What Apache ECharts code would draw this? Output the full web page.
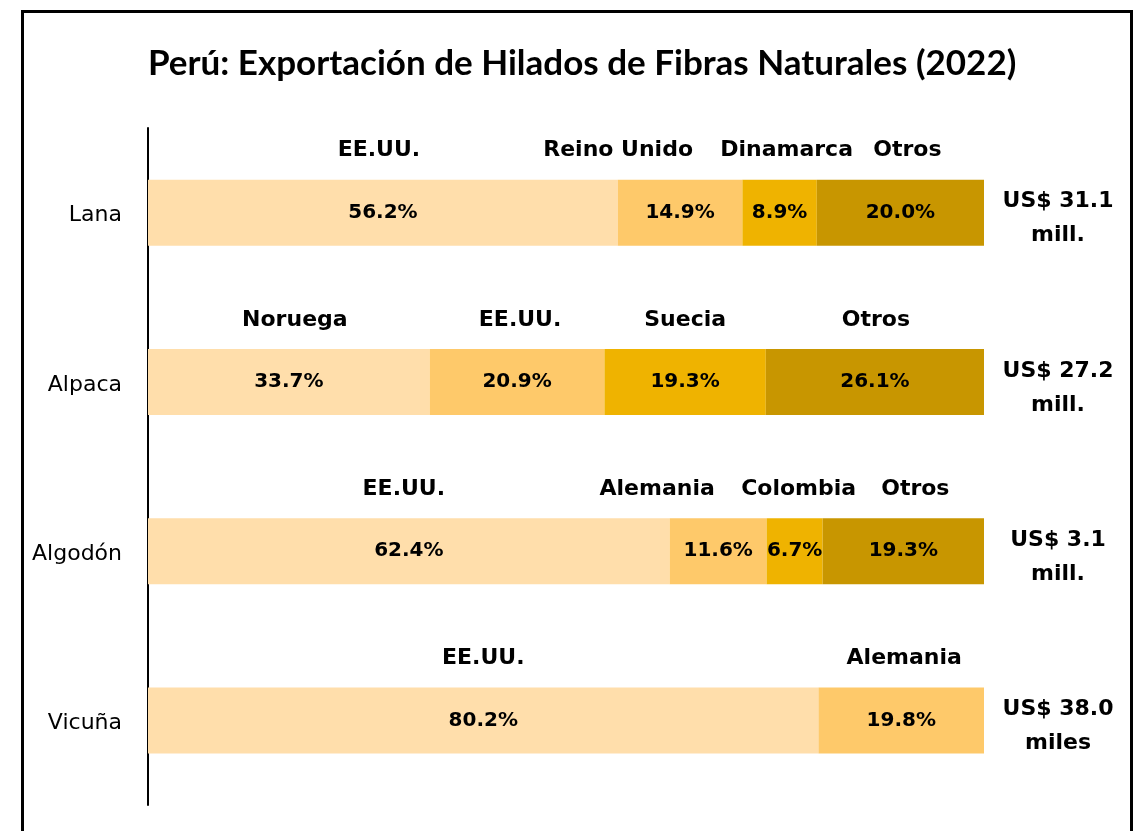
<!DOCTYPE html>
<html><head><meta charset="utf-8">
<script src="https://cdn.jsdelivr.net/npm/echarts@6/dist/echarts.min.js"></script>
<style>html,body{margin:0;padding:0;background:#fff}#c{width:1138px;height:831px}</style>
</head><body><div id="c"></div>
<script>
const titleText = 'Perú: Exportación de Hilados de Fibras Naturales (2022)';
const categories = ['Lana', 'Alpaca', 'Algodón', 'Vicuña'];
const totals = ['US$ 31.1\nmill.', 'US$ 27.2\nmill.', 'US$ 3.1\nmill.', 'US$ 38.0\nmiles'];
const share1 = [56.2, 33.7, 62.4, 80.2];
const share2 = [14.9, 20.9, 11.6, 19.8];
const share3 = [8.9, 19.3, 6.7, null];
const share4 = [20.0, 26.1, 19.3, null];
const names1 = ['EE.UU.', 'Noruega', 'EE.UU.', 'EE.UU.'];
const names2 = ['Reino Unido', 'EE.UU.', 'Alemania', 'Alemania'];
const names3 = ['Dinamarca', 'Suecia', 'Colombia', ''];
const names4 = ['Otros', 'Otros', 'Otros', ''];

// layout only: horizontal nudges of the country names (px)
const nameNudge = [
  [-4, 6, -5, 0],
  [-62, 3, -61, 3],
  [7, 0, 4, 0],
  [7, 1, 12, 0]
];
const colors = ['#FFDEAB', '#FEC96A', '#EFB300', '#C89600'];
const FONT = 'DejaVu Sans';

const shares = [share1, share2, share3, share4];
const names = [names1, names2, names3, names4];

const series = [];
shares.forEach((arr, i) => {
  series.push({
    type: 'bar', stack: 'pct', barWidth: 66, barGap: '-100%',
    itemStyle: { color: colors[i] },
    label: {
      show: true, position: 'inside', color: '#000', fontFamily: FONT,
      fontWeight: 'bold', fontSize: 20,
      formatter: p => (p.value == null ? '' : p.value.toFixed(1) + '%')
    },
    emphasis: { disabled: true },
    data: arr
  });
});
shares.forEach((arr, i) => {
  series.push({
    type: 'bar', stack: 'names', barWidth: 66, barGap: '-100%',
    itemStyle: { color: 'rgba(0,0,0,0)' },
    silent: true,
    emphasis: { disabled: true },
    data: arr.map((v, k) => ({
      value: v,
      label: {
        show: !!names[i][k], position: 'top', distance: 18,
        offset: [nameNudge[i][k], 0],
        formatter: names[i][k] || '',
        color: '#000', fontFamily: FONT, fontWeight: 'bold', fontSize: 22
      }
    }))
  });
});

const chart = echarts.init(document.getElementById('c'), null, { renderer: 'canvas' });
chart.setOption({
  animation: false,
  backgroundColor: '#fff',
  title: {
    text: titleText, left: 143, top: 41,
    textStyle: { fontFamily: 'Lato', fontWeight: 'bold', fontSize: 35, color: '#000' }
  },
  grid: [
    { left: 148, right: 154, top: 128, bottom: 26 },
    { left: 148, right: 154, top: 134, bottom: 20 },
    { left: 148, right: 154, top: 131, bottom: 23 }
  ],
  xAxis: [
    { type: 'value', min: 0, max: 100, show: false, gridIndex: 0 },
    { type: 'value', min: 0, max: 100, show: false, gridIndex: 1 },
    { type: 'value', min: 0, max: 100, show: false, gridIndex: 2 }
  ],
  yAxis: [
    {
      type: 'category', data: categories, inverse: true, gridIndex: 0,
      axisLine: { show: true, lineStyle: { color: '#000', width: 2 } },
      axisTick: { show: false },
      axisLabel: { show: false }
    },
    {
      type: 'category', data: totals, inverse: true, position: 'right', gridIndex: 1,
      axisLine: { show: false }, axisTick: { show: false },
      axisLabel: {
        margin: 74, align: 'center', color: '#000', fontFamily: FONT,
        fontWeight: 'bold', fontSize: 22, lineHeight: 34
      }
    },
    {
      type: 'category', data: categories, inverse: true, position: 'left', gridIndex: 2,
      axisLine: { show: false }, axisTick: { show: false },
      axisLabel: { margin: 26, color: '#000', fontFamily: FONT, fontSize: 22 }
    }
  ],
  graphic: [{
    type: 'rect', shape: { x: 22.5, y: 11.5, width: 1109, height: 900 },
    style: { fill: 'none', stroke: '#000', lineWidth: 3 }, silent: true
  }],
  series: series
});
</script></body></html>
